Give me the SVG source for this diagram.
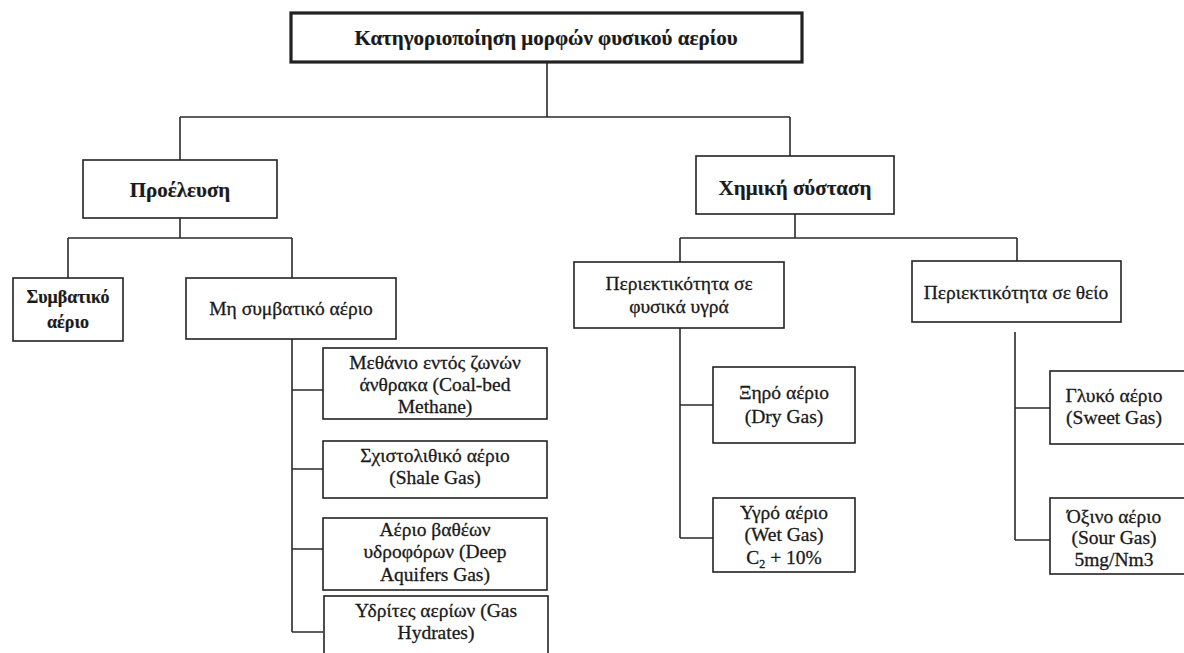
<svg xmlns="http://www.w3.org/2000/svg" width="1184" height="653" viewBox="0 0 1184 653">
  <style>
    .box { fill: #ffffff; stroke: #222222; stroke-width: 1.6; }
    .root { stroke-width: 3.2; }
    .wire { fill: none; stroke: #2a2a2a; stroke-width: 1.6; }
    text { font-family: "Liberation Serif", "DejaVu Serif", serif; font-size: 19.5px; fill: #1a1a1a; stroke: #1a1a1a; stroke-width: 0.3; text-anchor: middle; }
    .b { font-weight: bold; font-size: 21px; stroke-width: 0.2; }
    .bs { font-weight: bold; font-size: 18px; stroke-width: 0.2; }
  </style>
  <rect width="1184" height="653" fill="#ffffff"/>

  <!-- tree connectors -->
  <g id="connectors">
    <path class="wire" d="M547 62 V117 M180 117 H790 M180 117 V160 M790 117 V156"/>
    <path class="wire" d="M180 218 V238 M68 238 H292 M68 238 V278 M292 238 V278"/>
    <path class="wire" d="M292 339 V632 M292 390 H323 M292 469 H323 M292 549 H323 M292 632 H323"/>
    <path class="wire" d="M795 214 V238 M680 238 H1017 M680 238 V262 M1017 238 V261"/>
    <path class="wire" d="M680 328 V538 M680 405 H713 M680 538 H713"/>
    <path class="wire" d="M1015 332 V540 M1015 408 H1050 M1015 540 H1050"/>
  </g>

  <g id="root">
    <rect class="box root" x="291" y="13" width="511" height="49"/>
    <text class="b" x="546" y="45">Κατηγοριοποίηση μορφών φυσικού αερίου</text>
  </g>

  <g id="origin">
    <rect class="box" x="83" y="160" width="194" height="58"/>
    <text class="b" x="180" y="197">Προέλευση</text>
  </g>

  <g id="conventional">
    <rect class="box" x="13" y="278" width="110" height="63"/>
    <text class="bs" x="68" y="303">Συμβατικό</text>
    <text class="bs" x="68" y="328">αέριο</text>
  </g>

  <g id="unconventional">
    <rect class="box" x="186" y="278" width="210" height="61"/>
    <text x="291" y="315">Μη συμβατικό αέριο</text>
  </g>

  <g id="coalbed">
    <rect class="box" x="323" y="348" width="224" height="71"/>
    <text x="435" y="369">Μεθάνιο εντός ζωνών</text>
    <text x="435" y="391">άνθρακα (Coal-bed</text>
    <text x="435" y="413">Methane)</text>
  </g>

  <g id="shale">
    <rect class="box" x="323" y="441" width="224" height="57"/>
    <text x="435" y="462">Σχιστολιθικό αέριο</text>
    <text x="435" y="484">(Shale Gas)</text>
  </g>

  <g id="aquifers">
    <rect class="box" x="323" y="518" width="224" height="72"/>
    <text x="435" y="536">Αέριο βαθέων</text>
    <text x="435" y="558">υδροφόρων (Deep</text>
    <text x="435" y="581">Aquifers Gas)</text>
  </g>

  <g id="hydrates">
    <rect class="box" x="324" y="596" width="224" height="70"/>
    <text x="436" y="617">Υδρίτες αερίων (Gas</text>
    <text x="436" y="639">Hydrates)</text>
  </g>

  <g id="chemistry">
    <rect class="box" x="696" y="156" width="198" height="58"/>
    <text class="b" x="795" y="195">Χημική σύσταση</text>
  </g>

  <g id="liquids">
    <rect class="box" x="574" y="262" width="210" height="66"/>
    <text x="679" y="290">Περιεκτικότητα σε</text>
    <text x="679" y="313">φυσικά υγρά</text>
  </g>

  <g id="sulfur">
    <rect class="box" x="912" y="261" width="209" height="61"/>
    <text x="1016" y="299">Περιεκτικότητα σε θείο</text>
  </g>

  <g id="dry">
    <rect class="box" x="713" y="367" width="142" height="76"/>
    <text x="784" y="399">Ξηρό αέριο</text>
    <text x="784" y="423">(Dry Gas)</text>
  </g>

  <g id="wet">
    <rect class="box" x="713" y="498" width="142" height="74"/>
    <text x="784" y="519">Υγρό αέριο</text>
    <text x="784" y="541">(Wet Gas)</text>
    <text x="784" y="564">C<tspan font-size="12" dy="4">2</tspan><tspan dy="-4"> + 10%</tspan></text>
  </g>

  <g id="sweet">
    <rect class="box" x="1050" y="371" width="140" height="73"/>
    <text x="1114" y="402">Γλυκό αέριο</text>
    <text x="1114" y="424">(Sweet Gas)</text>
  </g>

  <g id="sour">
    <rect class="box" x="1050" y="498" width="140" height="76"/>
    <text x="1114" y="523">Όξινο αέριο</text>
    <text x="1114" y="544">(Sour Gas)</text>
    <text x="1114" y="566">5mg/Nm3</text>
  </g>
</svg>
